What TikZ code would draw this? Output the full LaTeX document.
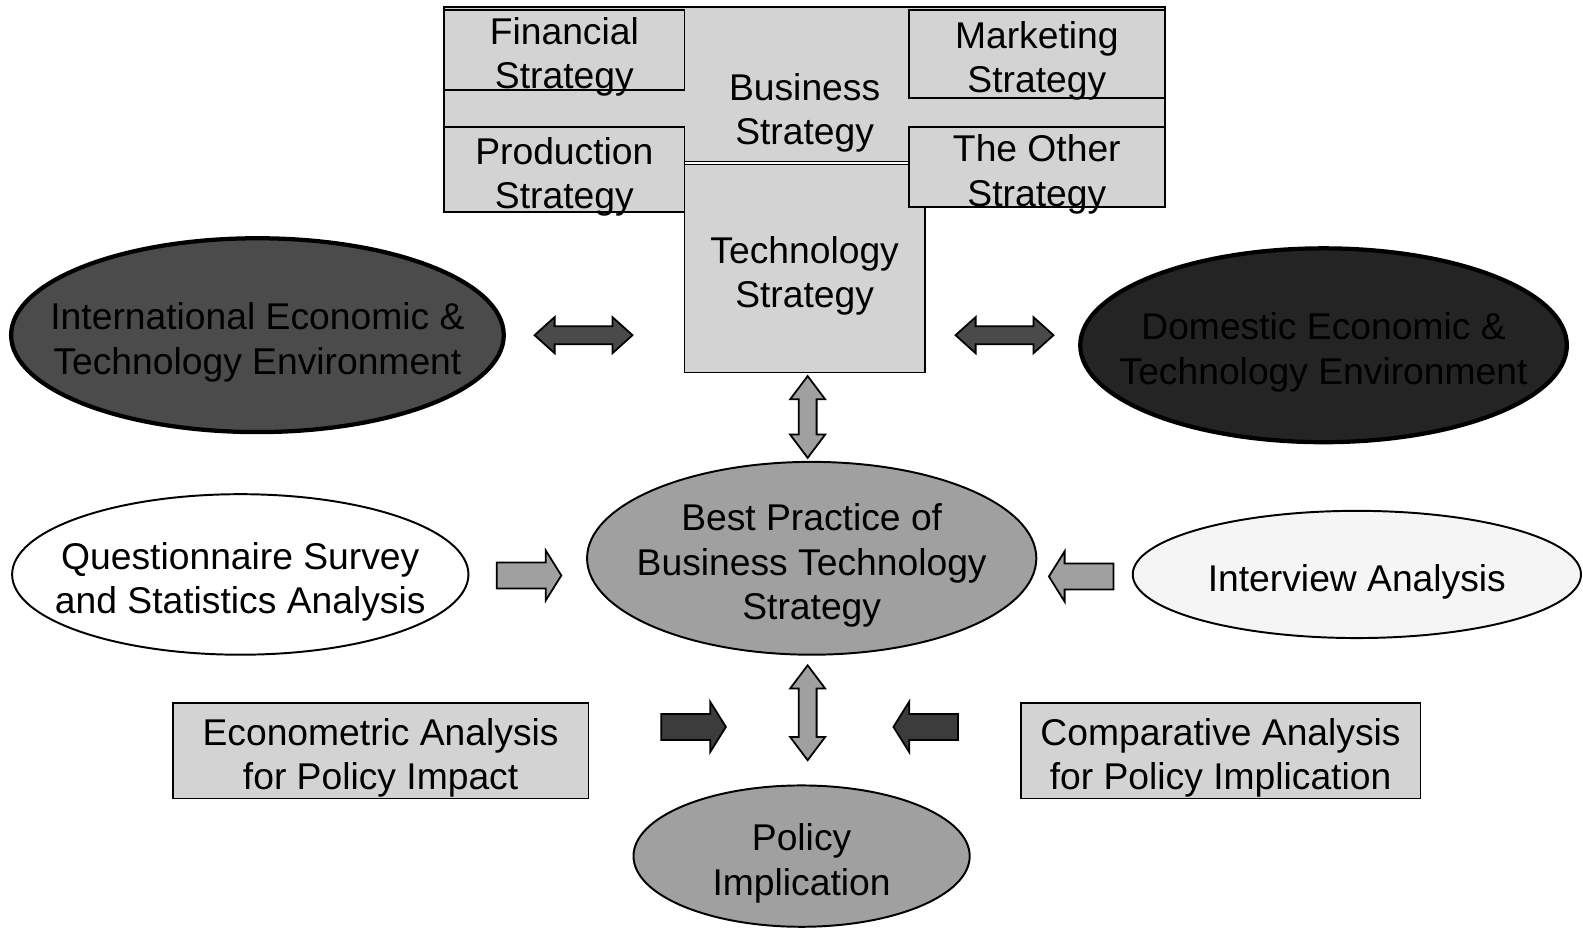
\documentclass[tikz,border=0pt]{standalone}
\usepackage{fontspec}
\setmainfont{Liberation Sans}
\usetikzlibrary{shapes.geometric, shapes.arrows}

\definecolor{boxgray}{HTML}{D3D3D3}
\definecolor{intlgray}{HTML}{4B4B4B}
\definecolor{domgray}{HTML}{242424}
\definecolor{bestgray}{HTML}{A0A0A0}
\definecolor{interwhite}{HTML}{F5F5F5}
\definecolor{arrowdark}{HTML}{4A4A4A}
\definecolor{arrowdeep}{HTML}{3C3C3C}

\def\pxu{0.02cm}

\begin{document}
\begin{tikzpicture}[
    x=0.02cm, y=-0.02cm,
    font=\fontsize{21}{25}\selectfont,
    every node/.style={align=center, inner sep=0pt},
    lowtext/.style={text height=#1},
    lowtext/.default=48.3pt,
    stratbox/.style={draw, fill=boxgray, line width=1pt, inner ysep=-30pt, lowtext},
    envell/.style={ellipse, draw, line width=2.4pt, inner sep=-80pt, lowtext},
    methell/.style={ellipse, draw, line width=1.1pt, inner sep=-80pt, lowtext},
    hbiarrow/.style={double arrow, draw, fill=arrowdark, line width=1pt,
        inner xsep=0pt, inner ysep=8*\pxu,
        minimum height=97*\pxu, double arrow head extend=9*\pxu,
        double arrow tip angle=84},
    vbiarrow/.style={double arrow, draw, fill=bestgray, line width=1pt,
        shape border rotate=90, inner xsep=8*\pxu, inner ysep=0pt,
        minimum height=#1*\pxu, double arrow head extend=8.5*\pxu,
        double arrow tip angle=74},
    blockarrow/.style={single arrow, draw, line width=1pt,
        inner xsep=0pt, inner ysep=12*\pxu,
        minimum height=64*\pxu, single arrow head extend=12*\pxu,
        single arrow tip angle=116}
]
\useasboundingbox (0,0) rectangle (1568,919);

% Strategy block
\node[stratbox, minimum width=714*\pxu, minimum height=153*\pxu] (bizbox) at (797,83.5) {};
\node[lowtext] (biz) at (797,105) {Business\\Strategy};
\node[stratbox, minimum width=238*\pxu, minimum height=206*\pxu] (tech) at (797,266) {Technology\\Strategy};
\node[stratbox, minimum width=238*\pxu, minimum height=79*\pxu] (fin) at (559,49.5) {Financial\\Strategy};
\node[stratbox, minimum width=254*\pxu, minimum height=87*\pxu] (mkt) at (1027,53.5) {Marketing\\Strategy};
\node[stratbox, minimum width=238*\pxu, minimum height=84*\pxu] (prod) at (559,168) {Production\\Strategy};
\node[stratbox, minimum width=254*\pxu, minimum height=79*\pxu] (other) at (1027,165.5) {The Other\\Strategy};

% Environments
\node[envell, fill=intlgray, minimum width=488*\pxu, minimum height=192*\pxu] (intl) at (255,332)
    {International Economic \&\\Technology Environment};
\node[envell, fill=domgray, minimum width=482*\pxu, minimum height=192*\pxu] (dom) at (1311,342)
    {Domestic Economic \&\\Technology Environment};

% Methods and results
\node[methell, fill=white, minimum width=452*\pxu, minimum height=159*\pxu] (quest) at (238,569)
    {Questionnaire Survey\\and Statistics Analysis};
\node[methell, fill=bestgray, minimum width=445*\pxu, minimum height=191*\pxu, lowtext=73.3pt] (best) at (804,553)
    {Best Practice of\\Business Technology\\Strategy};
\node[methell, fill=interwhite, minimum width=444*\pxu, minimum height=126*\pxu, lowtext=23.3pt] (inter) at (1344,569)
    {Interview Analysis};
\node[methell, fill=bestgray, minimum width=333*\pxu, minimum height=140*\pxu] (policy) at (794,848)
    {Policy\\Implication};
\node[stratbox, minimum width=412*\pxu, minimum height=95*\pxu] (econ) at (377,743.5)
    {Econometric Analysis\\for Policy Impact};
\node[stratbox, minimum width=396*\pxu, minimum height=95*\pxu] (comp) at (1209,743.5)
    {Comparative Analysis\\for Policy Implication};

% Block arrows
\node[hbiarrow] (arrintl) at (578,332) {};
\node[hbiarrow] (arrdom) at (995,332) {};
\node[vbiarrow=81] (arrtech) at (800,413) {};
\node[vbiarrow=94] (arrpol) at (800,706) {};
\node[blockarrow, fill=bestgray] (arrquest) at (520,570) {};
\node[blockarrow, fill=bestgray, shape border rotate=180] (arrinter) at (1075,571) {};
\node[blockarrow, fill=arrowdeep] (arrecon) at (683,720) {};
\node[blockarrow, fill=arrowdeep, shape border rotate=180] (arrcomp) at (921,720) {};

\end{tikzpicture}
\end{document}
